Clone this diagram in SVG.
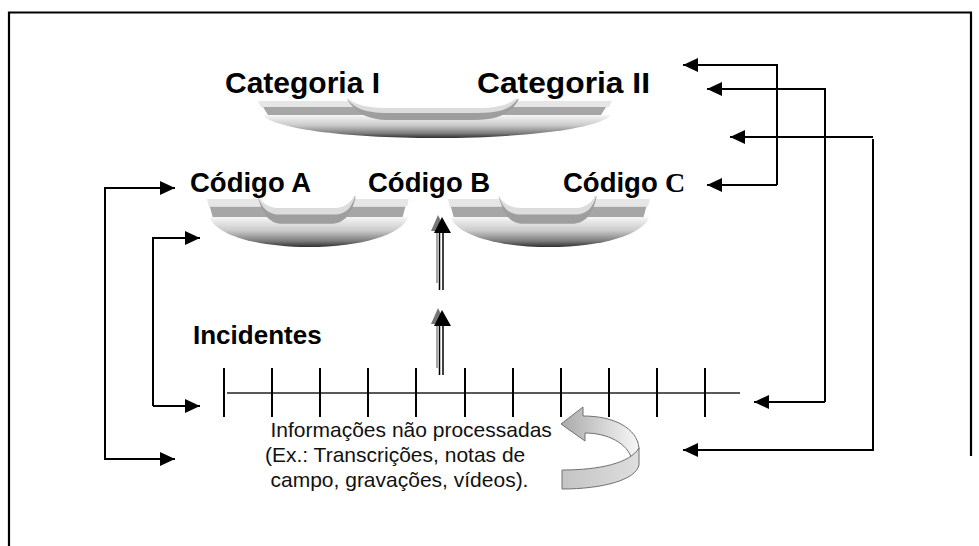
<svg xmlns="http://www.w3.org/2000/svg" width="979" height="546" viewBox="0 0 979 546">
  <style>
    .lbl { font-family: "Liberation Sans", Arial, sans-serif; font-weight: bold; fill: #000; }
    .note { font-family: "Liberation Sans", Arial, sans-serif; font-size: 21px; fill: #111; }
    .conn { fill: none; stroke: #000; stroke-width: 2; }
    .tick { stroke: #000; stroke-width: 2; }
  </style>
  <defs>
    <marker id="ah" markerUnits="userSpaceOnUse" markerWidth="15" markerHeight="14" refX="15" refY="7" orient="auto">
      <path d="M0,0 L15,7 L0,14 Z" fill="#000"/>
    </marker>
    <linearGradient id="bowl" x1="0" y1="0" x2="0" y2="1">
      <stop offset="0" stop-color="#f6f6f6"/>
      <stop offset="0.45" stop-color="#cacaca"/>
      <stop offset="0.8" stop-color="#7c7c7c"/>
      <stop offset="1" stop-color="#2e2e2e"/>
    </linearGradient>
    <linearGradient id="turnTop" x1="0" y1="0" x2="1" y2="0">
      <stop offset="0" stop-color="#a9a9a9"/>
      <stop offset="0.6" stop-color="#d9d9d9"/>
      <stop offset="1" stop-color="#f7f7f7"/>
    </linearGradient>
    <linearGradient id="turnFront" x1="0" y1="0" x2="1" y2="0">
      <stop offset="0" stop-color="#c4c4c4"/>
      <stop offset="1" stop-color="#dedede"/>
    </linearGradient>
    <!-- layered tray drawn under a label row -->
    <g id="tray">
      <path d="M258,101 H612 L609,107 H261 Z" fill="#e6e6e6"/>
      <path d="M263,107 H606 L601,115 H268 Z" fill="#a6a6a6"/>
      <path d="M263,115 H611 C600,128 530,138 436,138 C342,138 272,128 263,115 Z" fill="url(#bowl)"/>
      <path d="M347,99 C355,112 366,120 390,120 H475 C500,120 512,112 519,99 Z" fill="#9e9e9e"/>
      <path d="M347,99 C355,108 364,113 388,113 H478 C502,113 511,108 518,99 Z" fill="#dcdcdc"/>
      <path d="M343,94 C351,103 362,108 388,108 H478 C502,108 513,103 521,94 Z" fill="#fff"/>
    </g>
  </defs>

  <!-- frame -->
  <path d="M9,546 V12.5 H971 V456" fill="none" stroke="#000" stroke-width="2.2"/>

  <!-- trays -->
  <use href="#tray"/>
  <use href="#tray" transform="translate(207,199) scale(0.57,1.3) translate(-258,-101)"/>
  <use href="#tray" transform="translate(448,199) scale(0.57,1.3) translate(-258,-101)"/>

  <g id="cat1"><text class="lbl" x="225" y="93" font-size="30">Categoria I</text></g>
  <g id="cat2"><text class="lbl" x="477" y="93" font-size="30" textLength="173" lengthAdjust="spacingAndGlyphs">Categoria II</text></g>
  <g id="codA"><text class="lbl" x="190" y="192" font-size="27.5">Código A</text></g>
  <g id="codB"><text class="lbl" x="368" y="192" font-size="27.5">Código B</text></g>
  <g id="codC"><text class="lbl" x="563" y="192" font-size="27.5">Código<tspan x="665" font-family="'Liberation Serif', 'Times New Roman', serif" font-size="28">C</tspan></text></g>
  <g id="inc"><text class="lbl" x="193" y="344" font-size="26">Incidentes</text></g>

  <!-- timeline of incidents -->
  <g id="timeline">
    <line x1="227" y1="393" x2="740" y2="393" stroke="#222" stroke-width="1.5"/>
    <line class="tick" x1="224" y1="368" x2="224" y2="417"/>
    <line class="tick" x1="272" y1="368" x2="272" y2="417"/>
    <line class="tick" x1="320" y1="368" x2="320" y2="417"/>
    <line class="tick" x1="368" y1="368" x2="368" y2="417"/>
    <line class="tick" x1="416" y1="368" x2="416" y2="417"/>
    <line class="tick" x1="465" y1="368" x2="465" y2="417"/>
    <line class="tick" x1="513" y1="368" x2="513" y2="417"/>
    <line class="tick" x1="561" y1="368" x2="561" y2="417"/>
    <line class="tick" x1="609" y1="368" x2="609" y2="417"/>
    <line class="tick" x1="657" y1="368" x2="657" y2="417"/>
    <line class="tick" x1="705" y1="368" x2="705" y2="417"/>
  </g>

  <g id="raw">
    <text class="note" x="270.5" y="437">Informações não processadas</text>
    <text class="note" x="265" y="462">(Ex.: Transcrições, notas de</text>
    <text class="note" x="270.5" y="487">campo, gravações, vídeos).</text>
  </g>

  <!-- U-turn arrow -->
  <g id="turn" stroke="#707070" stroke-width="1" stroke-linejoin="round">
    <path d="M561,424 L583,407 L583,416 C614,416 637,428 639,448 L632,460 C628,443 607,433 585,433 L585,441 Z" fill="url(#turnTop)"/>
    <path d="M562,470 C600,470 630,463 639,448 L639,465 C636,480 602,489 562,489 Z" fill="url(#turnFront)"/>
  </g>

  <!-- connectors -->
  <g id="connectors">
    <!-- double-line upward arrows -->
    <g id="up1">
      <line x1="437" y1="232" x2="437" y2="283" stroke="#888" stroke-width="1.5"/>
      <line x1="439.5" y1="232" x2="439.5" y2="290" stroke="#000" stroke-width="1.5"/>
      <line x1="443" y1="232" x2="443" y2="290" stroke="#000" stroke-width="1.5"/>
      <path d="M431,231 L438,215 L446,231 Z" fill="#777"/>
      <path d="M434,233 L442,217 L451,233 Z" fill="#000"/>
    </g>
    <g id="up2">
      <line x1="437" y1="325" x2="437" y2="368" stroke="#888" stroke-width="1.5"/>
      <line x1="439.5" y1="325" x2="439.5" y2="375" stroke="#000" stroke-width="1.5"/>
      <line x1="443" y1="325" x2="443" y2="375" stroke="#000" stroke-width="1.5"/>
      <path d="M431,324 L438,308 L446,324 Z" fill="#777"/>
      <path d="M434,326 L442,310 L451,326 Z" fill="#000"/>
    </g>
    <!-- left brackets -->
    <path class="conn" d="M175,188 H105 V459 H175" marker-end="url(#ah)"/>
    <path class="conn" d="M105,188 H175" marker-end="url(#ah)"/>
    <path class="conn" d="M153,406 V238 H200" marker-end="url(#ah)"/>
    <path class="conn" d="M153,406 H200" marker-end="url(#ah)"/>
    <!-- right brackets -->
    <path class="conn" d="M777,185 V65 H683" marker-end="url(#ah)"/>
    <path class="conn" d="M777,185 H707" marker-end="url(#ah)"/>
    <path class="conn" d="M825,402 V89 H707" marker-end="url(#ah)"/>
    <path class="conn" d="M825,402 H754" marker-end="url(#ah)"/>
    <path class="conn" d="M873,137 H730" marker-end="url(#ah)"/>
    <path class="conn" d="M873,139 V450 H683" marker-end="url(#ah)"/>
  </g>
</svg>
